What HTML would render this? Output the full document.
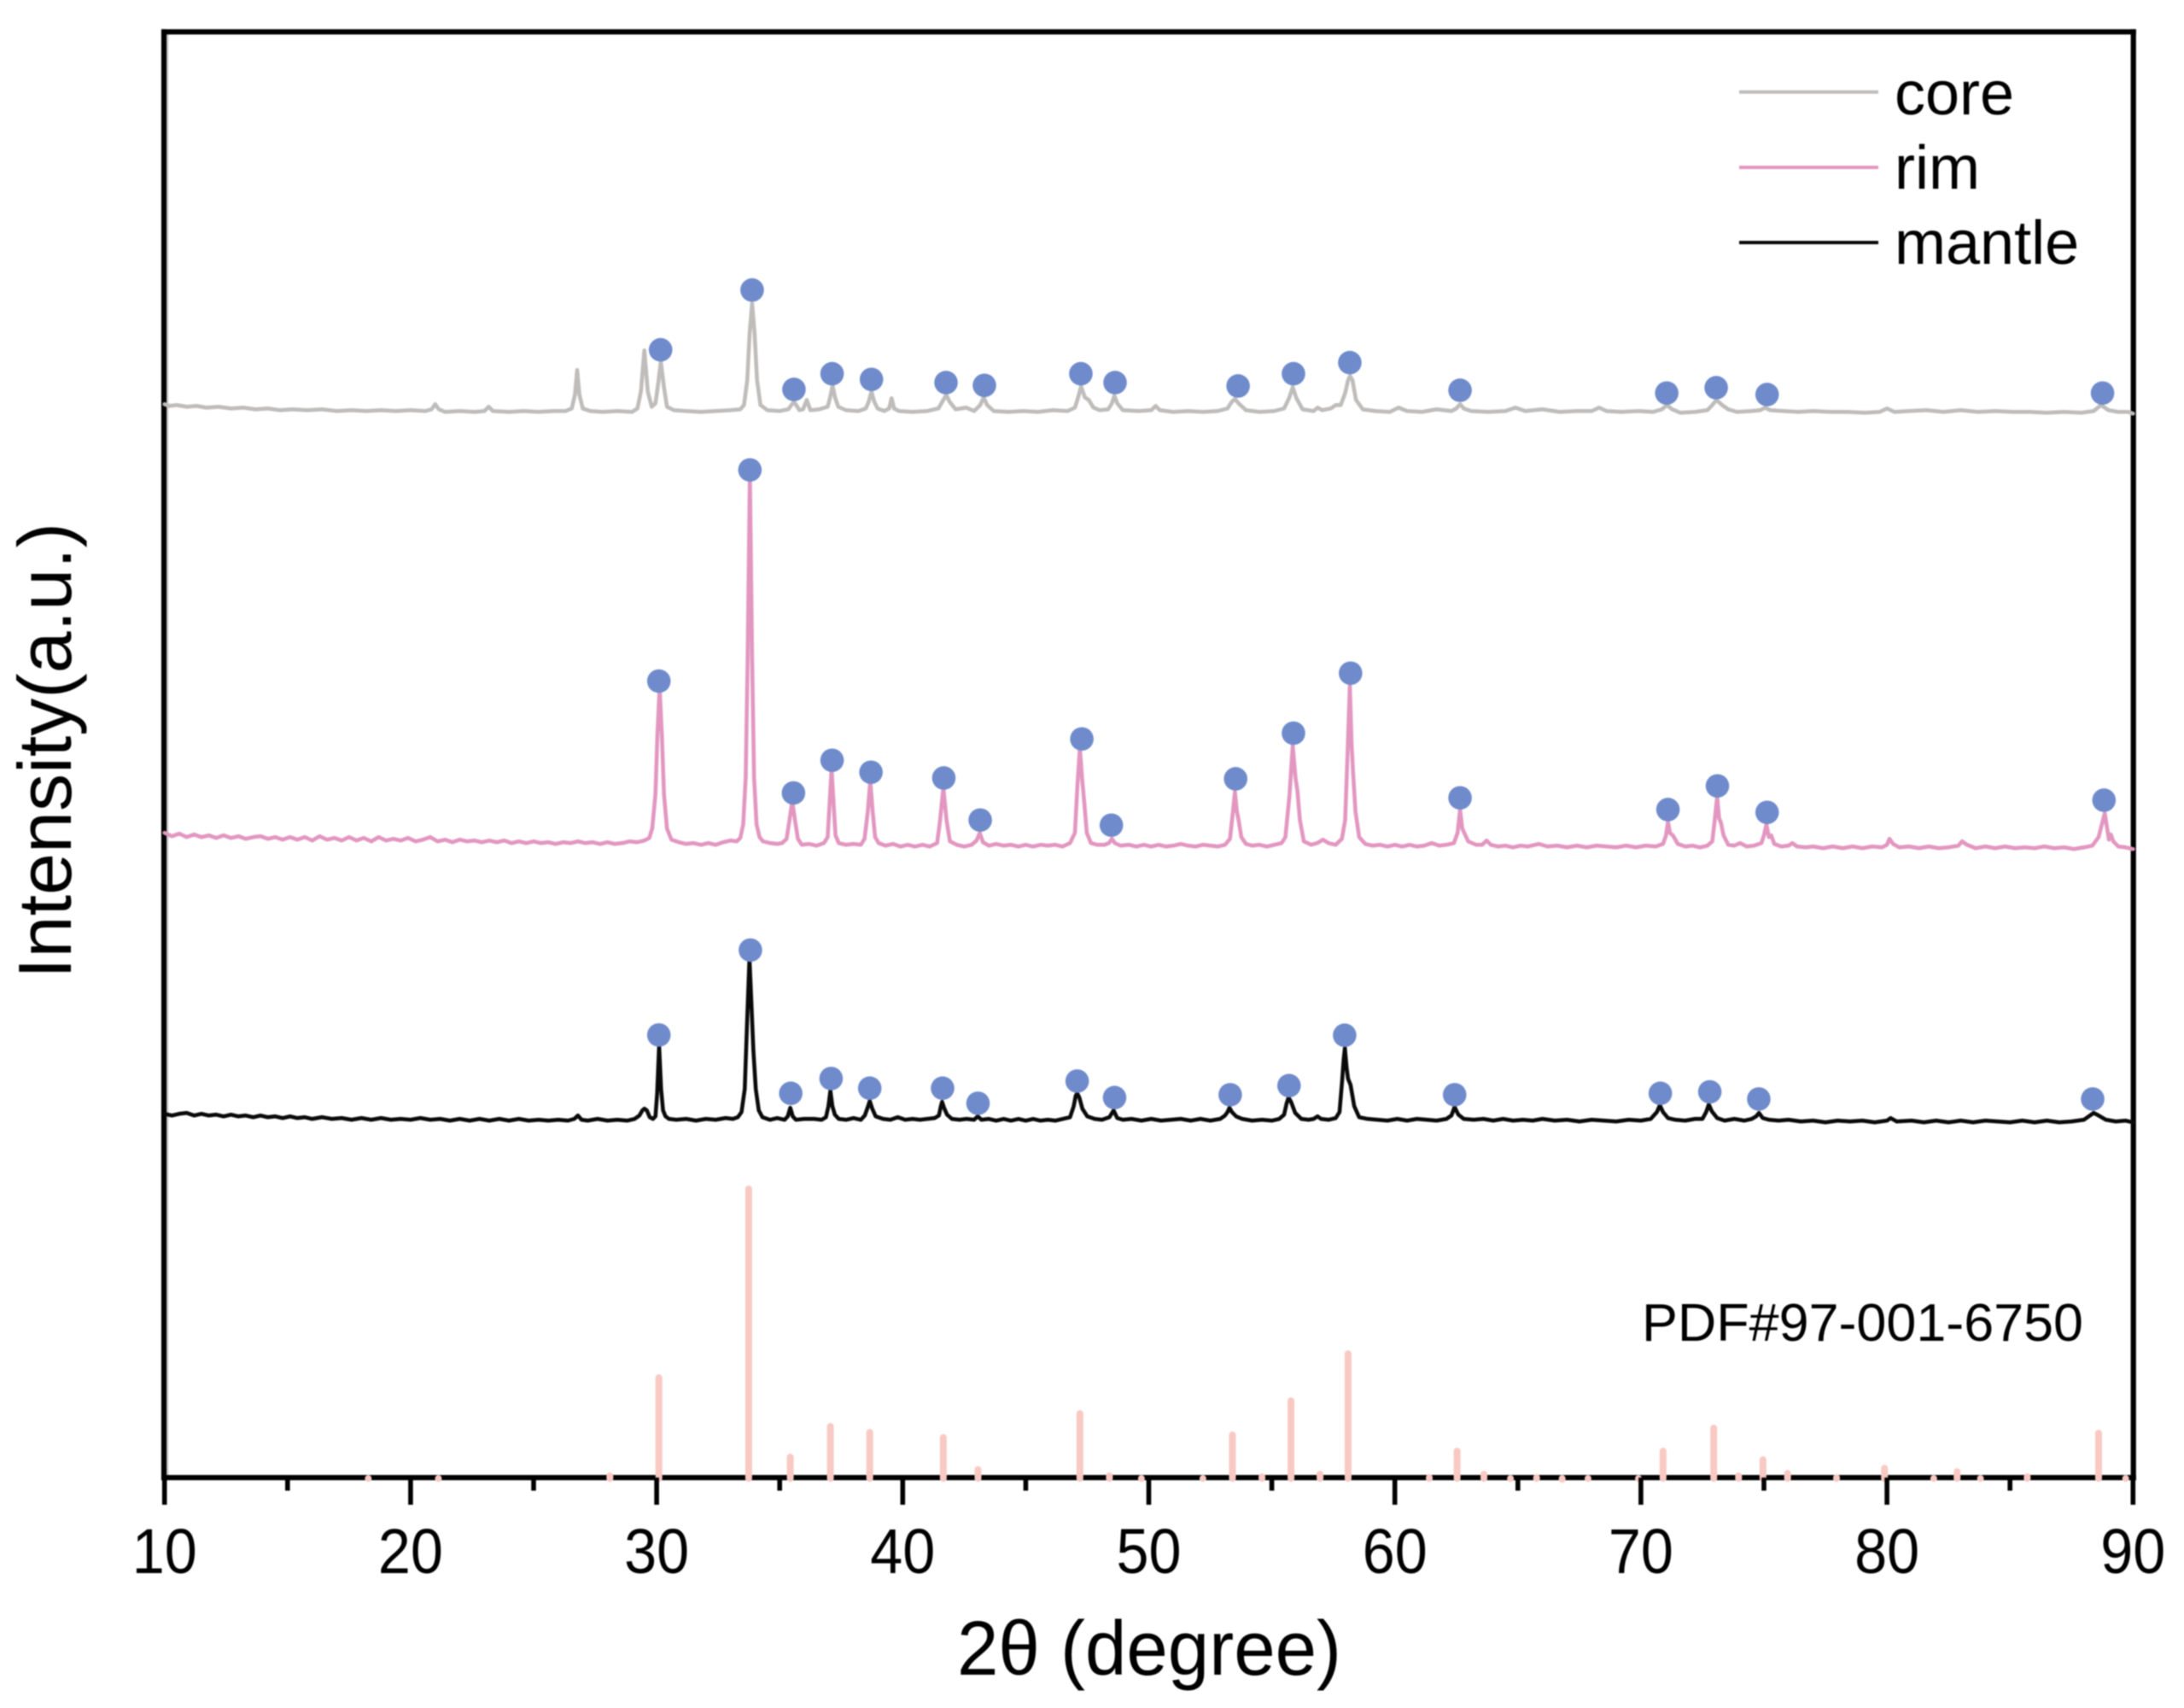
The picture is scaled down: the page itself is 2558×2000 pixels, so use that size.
<!DOCTYPE html>
<html lang="en">
<head>
<meta charset="utf-8">
<title>XRD patterns of core, rim and mantle</title>
<style>
html,body{margin:0;padding:0;background:#fff;}
body{width:2558px;height:2000px;overflow:hidden;}
svg{display:block;filter:blur(0.8px);font-family:"Liberation Sans",Arial,sans-serif;fill:#000;}
</style>
</head>
<body>
<svg id="chart" width="2558" height="2000" viewBox="0 0 2558 2000" xmlns="http://www.w3.org/2000/svg">
  <rect x="0" y="0" width="2558" height="2000" fill="#fff"/>
  <g id="frame"></g>
  <g id="sticks"></g>
  <g id="traces"></g>
  <g id="dots"></g>
  <g id="ticks"></g>
  <text x="1346" y="1961" font-size="90" text-anchor="middle" textLength="450" lengthAdjust="spacingAndGlyphs">2θ (degree)</text>
  <text transform="translate(83,1146) rotate(-90)" font-size="88" textLength="534" lengthAdjust="spacingAndGlyphs">Intensity(a.u.)</text>
  <text x="1923" y="1570" font-size="62.5" textLength="517" lengthAdjust="spacingAndGlyphs">PDF#97-001-6750</text>
  <g>
    <line x1="2037" x2="2200" y1="107.7" y2="107.7" stroke="#bfbdbb" stroke-width="4"/>
    <text x="2219" y="134" font-size="72">core</text>
    <line x1="2037" x2="2200" y1="196" y2="196" stroke="#e296c0" stroke-width="4"/>
    <text x="2219" y="221" font-size="72">rim</text>
    <line x1="2037" x2="2200" y1="284" y2="284" stroke="#0a0a0a" stroke-width="4"/>
    <text x="2219" y="309" font-size="72">mantle</text>
  </g>
</svg>
<script>
const majorTicks = [10, 20, 30, 40, 50, 60, 70, 80, 90];
const minorTicks = [15, 25, 35, 45, 55, 65, 75, 85];

const stickTheta = [18.28,21.13,28.1,30.09,33.74,35.43,37.06,38.66,41.65,43.06,47.2,48.4,49.7,52.2,53.4,54.6,55.78,56.96,58.1,61.4,62.53,63.62,64.7,65.76,66.8,67.85,69.9,70.9,72.96,73.97,74.96,75.96,77.95,79.9,81.9,82.85,83.8,85.7,88.6,89.7];
const stickHeight = [3,3,6,121,342,28,64,57,51,13.5,79,6,3,3,54,5,94,8,149,4,35,8,3,4,2,3,3,35,62,6,25,9,4,15,3,11,3,5,56,3];

const coreTheta = [
10.0,10.2,10.5,10.9,11.3,11.7,12.2,12.7,13.2,13.7,14.2,14.7,
15.2,15.8,16.4,17.0,17.6,18.2,18.8,19.4,20.0,20.6,20.85,21.0,21.15,21.4,
22.0,22.6,23.0,23.17,23.35,24.0,24.6,25.2,25.8,26.3,26.55,26.68,26.77,26.86,27.0,27.3,
27.8,28.4,29.0,29.22,29.36,29.5,29.64,29.8,29.95,30.05,30.17,30.29,30.42,30.7,
31.2,31.8,32.4,33.0,33.4,33.55,33.68,33.78,33.88,33.98,34.08,34.22,34.5,
35.0,35.35,35.58,35.8,35.95,36.1,36.25,36.6,36.95,37.05,37.15,37.25,37.38,37.7,
38.2,38.5,38.62,38.73,38.84,38.98,39.25,39.45,39.55,39.65,39.85,40.4,41.0,41.45,41.65,41.77,41.9,42.15,
42.57,42.9,43.15,43.29,43.43,43.7,44.3,44.9,45.5,46.1,46.7,47.0,47.13,47.25,47.4,47.56,47.75,48.0,
48.35,48.5,48.6,48.72,48.95,49.6,50.1,50.28,50.45,51.0,51.6,52.2,52.8,53.2,53.38,53.5,53.65,53.95,
54.5,55.1,55.5,55.7,55.85,56.0,56.25,56.7,56.86,57.05,57.4,57.6,57.8,57.98,58.1,58.18,58.28,58.42,58.7,
59.2,59.8,60.15,60.5,61.1,61.7,62.3,62.5,62.65,62.8,63.1,63.8,64.5,64.9,65.3,66,66.7,67.4,68,68.3,68.6,69.2,69.9,70.5,70.85,71.06,71.27,71.6,
72.2,72.7,72.9,73.07,73.3,73.55,73.9,74.5,74.85,75.05,75.25,75.8,76.4,77,77.7,78.4,79.1,79.7,80,80.3,80.9,81.6,82.3,83,83.7,84.4,85.1,85.8,86.5,87.2,87.9,88.4,88.7,89,89.4,89.8,90
];
const coreIntensity = [
1257,1255,1256,1254,1255,1253,1254,1252,1253,1251,1252,1250,
1251,1250,1251,1249,1250,1249,1250,1249,1250,1249,1251,1257,1251,1248,
1249,1248,1249,1254,1249,1248,1249,1248,1249,1249,1252,1268,1297,1268,1252,1249,
1248,1249,1248,1252,1272,1320,1272,1254,1258,1278,1307,1278,1254,1250,
1249,1248,1249,1250,1251,1256,1285,1340,1375,1340,1285,1256,1250,
1249,1251,1260,1250,1251,1262,1250,1251,1254,1265,1279,1265,1254,1250,
1249,1252,1260,1272,1260,1252,1249,1252,1264,1252,1249,1248,1249,1252,1262,1268,1260,1251,
1253,1249,1256,1265,1256,1249,1248,1249,1248,1250,1249,1253,1265,1278,1265,1262,1253,1250,
1251,1258,1267,1258,1250,1249,1250,1255,1250,1248,1249,1248,1249,1252,1260,1263,1258,1250,
1248,1249,1252,1264,1277,1264,1251,1249,1253,1250,1252,1256,1256,1270,1285,1290,1285,1262,1251,
1249,1248,1253,1249,1248,1251,1249,1252,1257,1252,1249,1248,1249,1253,1249,1251,1248,1249,1249,1253,1249,1248,1249,1248,1251,1256,1251,1247,
1248,1250,1256,1262,1256,1251,1248,1249,1250,1253,1250,1249,1248,1249,1248,1248,1247,1248,1252,1248,1249,1250,1248,1250,1248,1249,1248,1248,1247,1248,1247,1249,1256,1250,1248,1248,1246
];

const rimTheta = [
10.0,10.3,10.6,10.9,11.2,11.5,11.8,12.1,12.4,12.7,13.0,13.3,13.6,13.9,14.2,14.5,14.8,15.1,15.4,15.7,
16.0,16.3,16.6,16.9,17.2,17.5,17.8,18.1,18.4,18.7,19.0,19.3,19.6,19.9,20.2,20.5,20.8,21.1,21.4,21.7,
22,22.3,22.6,22.9,23.2,23.5,23.8,24.1,24.4,24.7,25,25.3,25.6,25.9,26.2,26.5,26.8,27.1,27.4,27.7,
28,28.3,28.6,28.9,29.2,29.5,29.7,29.82,29.95,30.03,30.12,30.21,30.3,30.42,30.6,30.9,31.2,31.5,31.8,32.1,
32.4,32.7,33,33.25,33.4,33.52,33.62,33.7,33.79,33.88,33.96,34.06,34.18,34.32,34.6,34.9,35.1,35.28,35.4,35.51,35.62,35.74,35.9,
36.2,36.5,36.8,36.95,37.03,37.11,37.19,37.27,37.4,37.7,38,38.3,38.45,38.58,38.68,38.78,38.88,39.02,39.3,39.6,
39.9,40.2,40.5,40.8,41.1,41.4,41.52,41.65,41.78,41.92,42.2,42.5,42.8,43.0,43.13,43.26,43.5,43.8,44.1,44.4,
44.7,45,45.3,45.6,45.9,46.2,46.5,46.8,47,47.1,47.2,47.3,47.38,47.48,47.65,47.9,48.2,48.38,48.5,48.62,48.85,49.2,
49.5,49.8,50.1,50.4,50.7,51,51.3,51.6,51.9,52.2,52.5,52.8,53.1,53.3,53.42,53.5,53.58,53.65,53.76,53.95,54.2,54.5,
54.8,55.1,55.4,55.55,55.72,55.85,55.96,56.04,56.14,56.3,56.6,56.85,57.08,57.3,57.6,57.85,57.98,58.08,58.17,58.24,58.3,58.4,58.55,58.8,
59.1,59.4,59.7,60,60.3,60.6,60.9,61.2,61.5,61.8,62.1,62.4,62.55,62.65,62.74,62.82,62.98,63.3,63.55,63.73,63.9,64.2,
64.5,64.8,65.1,65.4,65.85,66.2,66.6,67,67.4,67.8,68.2,68.6,69,69.4,69.8,70.2,70.6,70.9,71.02,71.1,71.18,71.3,71.5,71.8,
72.1,72.4,72.7,72.9,73,73.1,73.18,73.25,73.36,73.55,73.8,74.03,74.3,74.6,74.9,75,75.1,75.2,75.3,75.42,75.7,76,76.15,76.35,76.7,
77,77.4,77.8,78.2,78.6,79,79.4,79.8,80,80.1,80.25,80.5,80.9,81.3,81.7,82.1,82.5,82.9,83.05,83.25,83.6,84,
84.4,84.8,85.2,85.6,86,86.4,86.8,87.2,87.6,88,88.35,88.6,88.78,88.85,88.95,89.02,89.1,89.2,89.4,89.7,90
];
const rimIntensity = [
755,751,754,750,753,750,752,749,752,749,751,748,750,751,748,750,747,750,747,750,
746,751,747,749,746,750,746,749,745,750,746,748,746,749,745,747,750,745,747,744,
747,745,746,744,746,744,746,743,745,743,745,743,744,742,744,743,745,743,744,742,
744,742,743,745,744,746,749,760,800,870,925,870,800,760,747,744,742,743,741,743,
741,744,746,745,749,765,820,960,1175,960,820,765,750,745,743,742,743,748,770,792,770,748,741,
742,740,743,750,790,830,790,752,743,741,742,741,748,780,816,780,750,743,740,742,
739,741,739,741,739,743,770,808,770,745,741,739,741,746,755,744,740,742,740,741,
739,741,739,741,740,741,739,743,755,810,854,815,790,755,743,741,741,743,748,743,740,741,
739,741,739,741,739,740,742,740,739,741,740,739,741,748,780,803,780,770,750,742,740,741,
739,741,743,750,800,857,820,804,770,745,741,743,747,743,741,748,770,850,928,860,827,780,750,742,
740,741,739,741,739,741,739,740,743,740,741,743,755,782,760,755,745,741,741,746,741,739,
740,738,740,739,742,739,740,738,740,738,740,739,738,740,738,740,739,742,752,768,755,752,742,739,
740,738,740,745,770,797,772,767,752,741,740,743,739,740,743,752,765,750,752,742,739,740,743,739,738,
739,737,739,737,739,737,739,738,741,748,742,738,739,737,739,737,738,740,745,741,737,739,
737,739,737,738,737,739,737,738,736,738,740,750,770,778,760,747,753,745,739,738,736
];

const mantleTheta = [
10,10.3,10.6,10.9,11.2,11.5,11.8,12.1,12.4,12.7,13,13.3,13.6,13.9,14.2,14.5,14.8,15.1,15.4,15.7,
16,16.4,16.8,17.2,17.6,18,18.4,18.8,19.2,19.6,20,20.4,20.8,21.2,21.6,22,22.4,22.8,23.2,23.6,
24,24.4,24.8,25.2,25.6,26,26.4,26.65,26.8,26.95,27.2,27.6,28,28.4,28.8,29.1,29.3,29.42,29.5,29.6,29.72,29.85,
29.95,30.02,30.1,30.18,30.26,30.36,30.5,30.8,31.2,31.6,32,32.4,32.8,33.1,33.3,33.45,33.58,33.67,33.77,33.85,33.93,34.03,34.15,34.3,34.6,34.9,35.2,35.33,35.43,35.53,35.66,36,
36.4,36.7,36.88,36.98,37.06,37.14,37.24,37.4,37.7,38,38.3,38.46,38.57,38.66,38.76,38.9,39.2,39.5,39.8,40.1,
40.4,40.7,41,41.3,41.47,41.55,41.6,41.68,41.8,42,42.3,42.6,42.9,43.05,43.2,43.5,43.8,44.1,44.4,44.7,
45,45.3,45.6,45.9,46.2,46.5,46.8,46.95,47.03,47.09,47.18,47.3,47.5,47.8,48.1,48.4,48.57,48.72,48.95,49.3,
49.7,50.1,50.5,50.9,51.3,51.7,52.1,52.5,52.9,53.1,53.2,53.28,53.38,53.55,53.8,54.2,54.6,55,55.3,55.5,55.6,55.68,55.78,55.95,56.2,56.5,
56.7,56.86,57,57.3,57.6,57.75,57.86,57.92,57.97,58.04,58.1,58.2,58.35,58.55,58.9,59.3,59.7,60.1,60.5,60.9,61.3,61.7,62.1,62.3,62.43,62.58,62.8,63.2,
63.6,64,64.4,64.8,65.2,65.6,66,66.5,67,67.5,68,68.5,69,69.5,70,70.4,70.65,70.77,70.9,71.1,71.4,71.8,72.2,72.5,72.65,72.76,72.88,73.1,73.4,73.8,
74.2,74.5,74.68,74.8,74.95,75.2,75.6,76,76.5,77,77.5,78,78.5,79,79.5,80,80.15,80.4,81,81.5,82,82.5,83,83.5,84,84.5,85,85.5,86,86.5,87,87.5,88,88.2,88.4,88.6,88.9,89.3,89.7,90
];
const mantleIntensity = [
426,424,426,427,424,426,424,425,423,425,423,424,422,424,422,423,421,423,421,422,
420,422,420,421,419,421,419,421,419,420,419,421,419,420,418,420,418,420,418,420,
418,420,418,419,418,419,418,420,424,419,418,420,418,419,418,420,424,430,432,430,422,420,
423,450,506,455,430,423,420,419,420,418,420,419,421,420,422,428,455,530,608,555,500,455,430,422,419,421,419,423,433,423,419,420,
420,419,422,435,453,435,425,420,419,421,419,424,433,441,432,423,420,419,422,419,
420,419,420,421,424,435,440,433,425,420,419,420,419,423,419,420,418,420,418,420,
418,420,418,419,418,420,422,435,447,450,445,432,423,420,419,422,430,421,419,420,
418,420,418,419,420,418,420,418,420,424,428,433,428,423,420,418,419,418,420,425,438,445,440,427,420,419,
420,423,420,419,421,428,465,490,503,480,467,460,435,422,420,419,418,420,418,420,419,418,420,424,434,425,420,419,
420,418,420,418,419,418,420,418,419,417,419,418,417,419,418,420,428,436,428,421,419,418,420,420,428,437,429,421,418,420,
418,420,423,427,421,419,418,419,417,418,416,418,417,418,416,418,421,417,418,416,418,416,418,416,418,417,416,418,416,418,416,417,419,423,427,424,419,417,418,416
];

const coreDotTheta = [30.16,33.88,35.58,37.13,38.73,41.76,43.32,47.24,48.63,53.63,55.88,58.17,62.65,71.05,73.06,75.13,88.76];
const coreDotIntensity = [1320.7,1390.7,1274.3,1292.7,1286,1282.3,1279,1292.7,1282.3,1278.3,1292.7,1305.7,1273.3,1270,1276.3,1268.3,1270];
const rimDotTheta = [30.09,33.79,35.56,37.13,38.71,41.67,43.15,47.28,48.48,53.53,55.88,58.2,62.65,71.1,73.11,75.13,88.82];
const rimDotIntensity = [932.7,1180,801.7,840,826,819.3,770,865,764,818.3,871.7,942,796,782.3,810,779,793.3];
const mantleDotTheta = [30.09,33.81,35.45,37.09,38.66,41.62,43.06,47.09,48.61,53.31,55.7,57.96,62.43,70.79,72.8,74.79,88.36];
const mantleDotIntensity = [518.3,617.7,450,467.3,456,456,438.3,464.3,445,448.3,459,518,448.3,450,451.7,443.3,443.3];

const NS = 'http://www.w3.org/2000/svg';
const X0 = 192.7, X1 = 2498.3, Y0 = 1730.2, Y1 = 37.3;
function xScale(v) { return X0 + (v - 10) * (X1 - X0) / 80; }
function yScale(v) { return Y0 - v * (Y0 - Y1) / 1693; }
function make(tag, parent, attrs) {
  const el = document.createElementNS(NS, tag);
  for (const k in attrs) el.setAttribute(k, attrs[k]);
  parent.appendChild(el);
  return el;
}

const frame = document.getElementById('frame');
const tickGroup = document.getElementById('ticks');
const stickGroup = document.getElementById('sticks');
const traceGroup = document.getElementById('traces');
const dotGroup = document.getElementById('dots');

const spineSpecs = [
  ['left-axis-line', X0 - 0.7, Y1 - 3, X0 - 0.7, Y0 + 3],
  ['top-axis-line', X0 - 3.5, Y1, X1 + 3.5, Y1],
  ['right-axis-line', X1 + 0.4, Y1 - 3, X1 + 0.4, Y0 + 3],
  ['bottom-axis-line', X0 - 3.5, Y0, X1 + 3.5, Y0]
];
const leftEdge = make('line', frame, {x1: 196.2, x2: 196.2, y1: Y1, y2: Y0, stroke: '#c9c9c9', 'stroke-width': 2.2});


spineSpecs.forEach(function (s) {
  const ln = make('line', frame, {x1: s[1], y1: s[2], x2: s[3], y2: s[4], stroke: '#000', 'stroke-width': 6.2});
  
  
});

majorTicks.forEach(function (v) {
  const t = make('line', tickGroup, {x1: xScale(v), x2: xScale(v), y1: Y0, y2: 1762, stroke: '#000', 'stroke-width': 5.6});
  
  
  const lab = make('text', tickGroup, {x: xScale(v), y: 1842, 'font-size': 74, 'text-anchor': 'middle', textLength: 76, lengthAdjust: 'spacingAndGlyphs'});
  
  
  lab.textContent = String(v);
});
minorTicks.forEach(function (v) {
  const t = make('line', tickGroup, {x1: xScale(v), x2: xScale(v), y1: Y0, y2: 1745.5, stroke: '#000', 'stroke-width': 5.6});
  
  
});

stickTheta.forEach(function (v, i) {
  const st = make('line', stickGroup, {
    x1: xScale(v), x2: xScale(v),
    y1: yScale(0) + 1, y2: yScale(stickHeight[i]) + 4,
    stroke: '#f9c9c3', 'stroke-width': 8, 'stroke-linecap': 'round'
  });
  
  
});

function drawTrace(name, thetas, values, color, width) {
  const n = Math.min(thetas.length, values.length);
  const pts = [];
  for (let i = 0; i < n; i++) pts.push(xScale(thetas[i]).toFixed(1) + ',' + yScale(values[i]).toFixed(1));
  const line = make('polyline', traceGroup, {
    points: pts.join(' '), fill: 'none', stroke: color, 'stroke-width': width,
    'stroke-linejoin': 'round', 'stroke-linecap': 'round'
  });
  
  
}
drawTrace('trace-core', coreTheta, coreIntensity, '#bfbdbb', 4.6);
drawTrace('trace-rim', rimTheta, rimIntensity, '#e296c0', 4.6);
drawTrace('trace-mantle', mantleTheta, mantleIntensity, '#0a0a0a', 4.6);

function drawDots(name, thetas, values) {
  thetas.forEach(function (v, i) {
    const d = make('circle', dotGroup, {cx: xScale(v), cy: yScale(values[i]), r: 13.8, fill: '#6f8bcb'});
    
    
  });
}
drawDots('peak-marker-core', coreDotTheta, coreDotIntensity);
drawDots('peak-marker-rim', rimDotTheta, rimDotIntensity);
drawDots('peak-marker-mantle', mantleDotTheta, mantleDotIntensity);
</script>
</body>
</html>
